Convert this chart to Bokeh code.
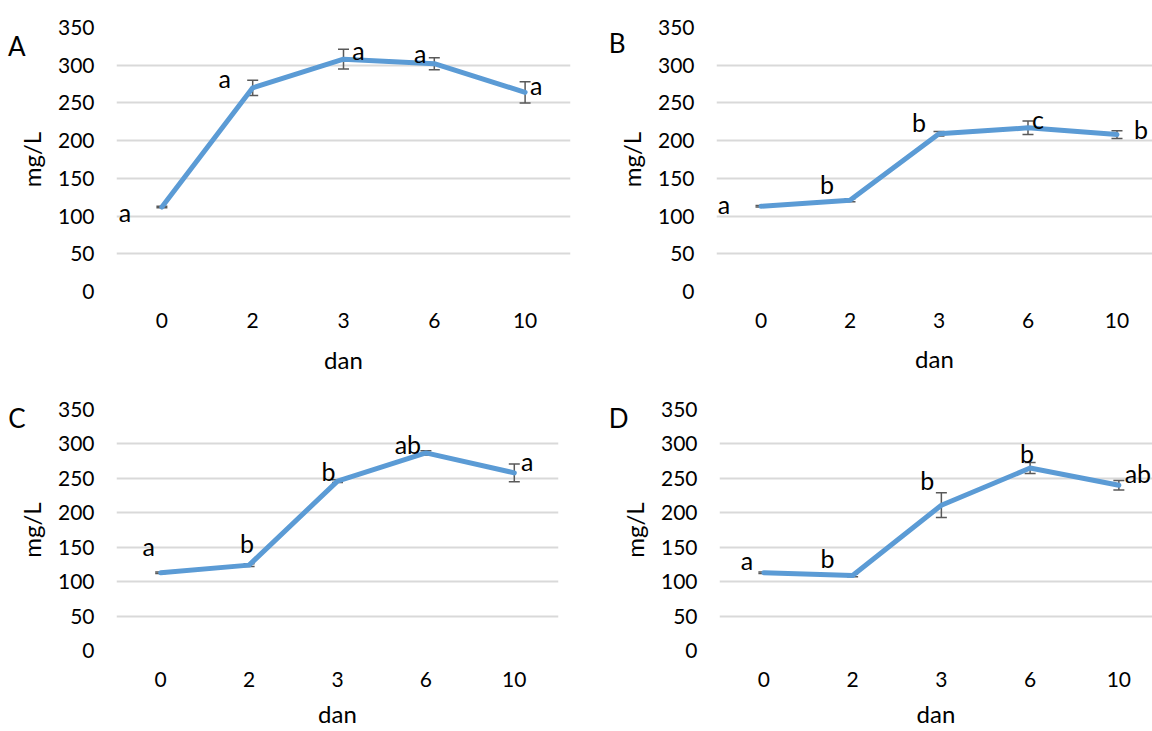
import numpy as np
from bokeh.plotting import figure
from bokeh.models import ColumnDataSource, Whisker, TeeHead, Range1d, FixedTicker, LinearAxis
from bokeh.layouts import column, row
from bokeh.embed import file_html
from bokeh.resources import INLINE
from bokeh.core.properties import value

# ---------------- data ----------------
days = ["0", "2", "3", "6", "10"]
y_ticks = [0, 50, 100, 150, 200, 250, 300, 350]
x_title = "dan"
y_title = "mg/L"
panel_names = ["A", "B", "C", "D"]

values_A = [112, 270, 308, 302, 264]
errors_A = [1, 10, 13, 8, 14]
letters_A = ["a", "a", "a", "a", "a"]

values_B = [113, 121, 209, 217, 208]
errors_B = [1, 2, 3, 9, 5]
letters_B = ["a", "b", "b", "c", "b"]

values_C = [113, 124, 246, 287, 258]
errors_C = [1, 2, 2, 3, 13]
letters_C = ["a", "b", "b", "ab", "a"]

values_D = [113, 109, 211, 265, 240]
errors_D = [1, 2, 18, 8, 7]
letters_D = ["a", "b", "b", "b", "ab"]

# ---------------- layout / style ----------------
FONT = "Lato"
LINE_COLOR = "#5B9BD5"
ERR_COLOR = "#595959"
GRID_COLOR = "#D9D9D9"

cfg = {
    "A": dict(width=576, height=380, left=116, right=6, top=25, bottom=89, x_end=4.5, dan_off=14,
              dx=[-37, -28, 15, -14, 11], dy=[5, -10, -9, -11, -7], name_at=325),
    "B": dict(width=576, height=380, left=140, right=0, top=27, bottom=84, x_end=4.399, dan_off=13,
              dx=[-37, -23, -20, 10, 24], dy=[-2, -16, -12, -9, -6], name_at=329),
    "C": dict(width=576, height=351, left=116, right=18, top=29, bottom=81, x_end=4.5, dan_off=9,
              dx=[-12, -2, -9, -18, 13], dy=[-27, -22, -10, -9, -12], name_at=337),
    "D": dict(width=576, height=351, left=143, right=0, top=29, bottom=81, x_end=4.379, dan_off=9,
              dx=[-17, -25, -14, -3, 19], dy=[-13, -17, -25, -15, -12], name_at=337),
}


def style_axis(ax, size):
    ax.axis_line_color = None
    ax.major_tick_line_color = None
    ax.minor_tick_line_color = None
    ax.major_tick_out = 0
    ax.major_tick_in = 0
    ax.major_label_text_font = FONT
    ax.major_label_text_font_size = size
    ax.major_label_text_color = "#000000"
    ax.axis_label_text_font = FONT
    ax.axis_label_text_font_size = "24px"
    ax.axis_label_text_font_style = "normal"
    ax.axis_label_text_color = "#000000"


def make_panel(name, vals, errs, letters, c):
    xs = list(range(len(days)))
    v = np.array(vals, dtype=float)
    e = np.array(errs, dtype=float)
    src = ColumnDataSource(dict(x=xs, y=vals, upper=list(v + e), lower=list(v - e),
                                lab=letters, dx=c["dx"], dy=c["dy"]))
    p = figure(width=c["width"], height=c["height"], output_backend="svg", toolbar_location=None,
               x_range=Range1d(-0.5, c["x_end"]), y_range=Range1d(0, 350),
               min_border_left=c["left"], min_border_right=c["right"],
               min_border_top=c["top"], min_border_bottom=c["bottom"])
    p.outline_line_color = None
    p.background_fill_color = "white"
    p.border_fill_color = "white"
    p.xgrid.grid_line_color = None
    p.ygrid.grid_line_color = GRID_COLOR
    p.ygrid.grid_line_width = 2

    p.yaxis.ticker = FixedTicker(ticks=y_ticks)
    p.xaxis.ticker = FixedTicker(ticks=xs)
    p.xaxis.major_label_overrides = {i: d for i, d in enumerate(days)}

    for ax in (p.xaxis[0], p.yaxis[0]):
        style_axis(ax, "21px")
    p.yaxis.major_label_standoff = 22
    p.yaxis.axis_label = y_title
    p.yaxis.axis_label_standoff = 9
    p.xaxis.major_label_standoff = 21
    p.xaxis.axis_label = x_title
    p.xaxis.axis_label_standoff = c["dan_off"]

    # panel letter (A, B, C, D) shown at the outer left
    name_axis = LinearAxis(ticker=FixedTicker(ticks=[c["name_at"]]),
                           major_label_overrides={c["name_at"]: name})
    style_axis(name_axis, "26px")
    name_axis.major_label_standoff = -12
    p.add_layout(name_axis, "left")

    p.line("x", "y", source=src, line_width=5, line_color=LINE_COLOR,
           line_cap="round", line_join="round")

    w = Whisker(base="x", upper="upper", lower="lower", source=src,
                line_color=ERR_COLOR, line_width=1.5,
                upper_head=TeeHead(size=11, line_color=ERR_COLOR, line_width=1.5),
                lower_head=TeeHead(size=11, line_color=ERR_COLOR, line_width=1.5))
    p.add_layout(w)

    p.text("x", "y", text="lab", source=src, x_offset="dx", y_offset="dy",
           text_font=value(FONT), text_font_size="25px", text_color="#000000",
           text_align="center", text_baseline="middle")
    return p


pA = make_panel("A", values_A, errors_A, letters_A, cfg["A"])
pB = make_panel("B", values_B, errors_B, letters_B, cfg["B"])
pC = make_panel("C", values_C, errors_C, letters_C, cfg["C"])
pD = make_panel("D", values_D, errors_D, letters_D, cfg["D"])

layout = column(row(pA, pB), row(pC, pD))

open("out.html", "w").write(file_html(layout, INLINE))
